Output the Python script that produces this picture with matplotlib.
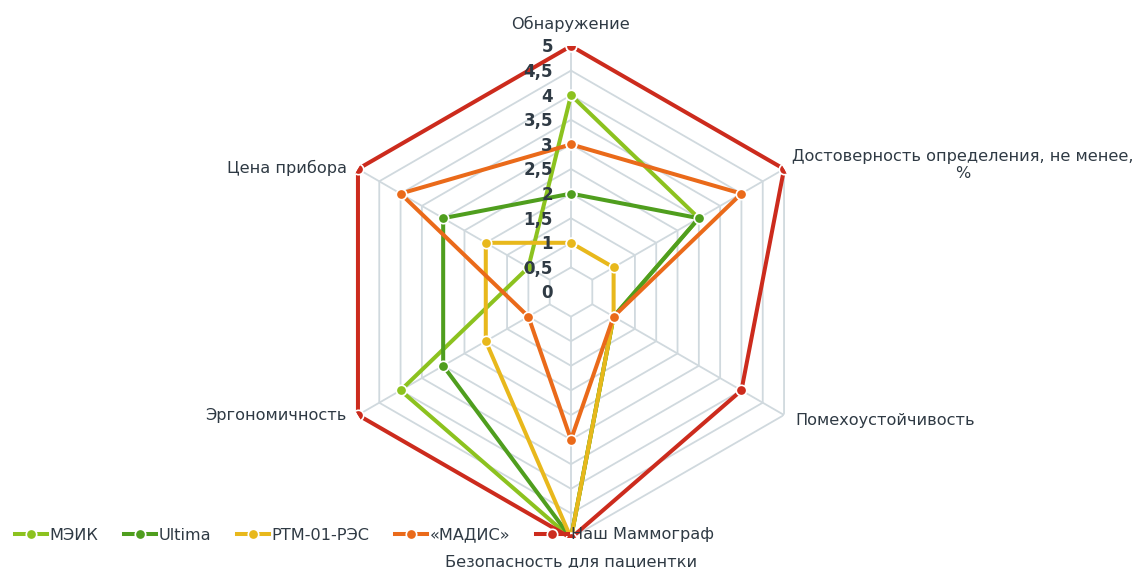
import numpy as np
import matplotlib.pyplot as plt
from matplotlib.lines import Line2D

plt.rcParams['font.family'] = ['DejaVu Sans']

# Оси диаграммы (по часовой стрелке от верхней)
categories = ['Обнаружение',
              'Достоверность определения, не менее,\n%',
              'Помехоустойчивость',
              'Безопасность для пациентки',
              'Эргономичность',
              'Цена прибора']

# Оценки приборов по каждой оси
meik = [4, 3, 1, 5, 4, 1]
ultima = [2, 3, 1, 5, 3, 3]
rtm = [1, 1, 1, 5, 2, 2]
madis = [3, 4, 1, 3, 1, 4]
nash = [5, 5, 4, 5, 5, 5]

series_names = ['МЭИК', 'Ultima', 'РТМ-01-РЭС', '«МАДИС»', 'Наш Маммограф']
series_values = [meik, ultima, rtm, madis, nash]
colors = ['#8cc21f', '#4f9e1e', '#e8b81c', '#ea6a1a', '#cc2b1d']

r_ticks = np.arange(0, 5.01, 0.5)
r_labels = ['0', '0,5', '1', '1,5', '2', '2,5', '3', '3,5', '4', '4,5', '5']

text_color = '#2f3a44'
grid_color = '#d0d9de'

W, H = 1142, 568
fig = plt.figure(figsize=(W / 100, H / 100), dpi=100)
cx, cy, R = 571, H - 292, 246
ax = fig.add_axes([(cx - R) / W, (cy - R) / H, 2 * R / W, 2 * R / H], projection='polar')
ax.set_theta_zero_location('N')
ax.set_theta_direction(-1)
ax.set_ylim(0, 5)
ax.grid(False)
ax.set_xticks([])
ax.set_yticks([])
ax.spines['polar'].set_visible(False)
ax.patch.set_alpha(0)

n = len(categories)
angles = np.arange(n) * 2 * np.pi / n
closed = np.append(angles, angles[0])

# шестиугольная сетка и лучи
for r in r_ticks[1:]:
    ax.plot(closed, [r] * (n + 1), color=grid_color, lw=1.3, zorder=1)
for a in angles:
    ax.plot([a, a], [0.5, 5], color=grid_color, lw=1.3, zorder=1)

for name, vals, c in zip(series_names, series_values, colors):
    ax.plot(closed, vals + vals[:1], color=c, lw=2.9, marker='o', ms=7.5,
            mfc=c, mec='white', mew=1.2, zorder=3, label=name)

# подписи шкалы вдоль верхнего луча
for r, lab in zip(r_ticks, r_labels):
    ax.annotate(lab, xy=(0, r), xytext=(-13, -1), textcoords='offset points',
                ha='right', va='center', fontsize=12, fontweight='bold',
                color=text_color, zorder=5)

# подписи осей
label_pos = [
    dict(xytext=(0, 16), ha='center', va='center'),
    dict(xytext=(129, 3), ha='center', va='center'),
    dict(xytext=(8, -4), ha='left', va='center'),
    dict(xytext=(0, -17), ha='center', va='center'),
    dict(xytext=(-8, 0), ha='right', va='center'),
    dict(xytext=(-8, 1), ha='right', va='center'),
]
for a, lab, kw in zip(angles, categories, label_pos):
    ax.annotate(lab, xy=(a, 5), textcoords='offset points', fontsize=11.6,
                color=text_color, multialignment='center', **kw)

handles = [Line2D([], [], color=c, lw=2.9, marker='o', ms=7.5, mfc=c, mec='white', mew=1.2)
           for c in colors]
fig.legend(handles, series_names, loc='center left', bbox_to_anchor=(0.0, (H - 535) / H),
           ncol=5, frameon=False, fontsize=11.6, handlelength=2.0, handletextpad=0.15,
           columnspacing=1.6, labelcolor=text_color)

fig.savefig('out.png', dpi=100)
